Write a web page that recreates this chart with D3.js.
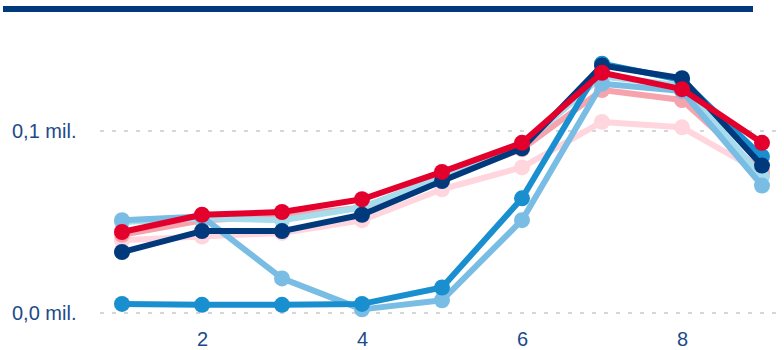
<!DOCTYPE html>
<html><head><meta charset="utf-8">
<script src="https://cdn.jsdelivr.net/npm/d3@7"></script>
<style>body{margin:0;background:#fff;}svg{display:block;font-family:"Liberation Sans",Arial,sans-serif;}</style>
</head><body>
<svg id="c" width="784" height="350"></svg>
<script>
const categories = [1,2,3,4,5,6,7,8,9];
const xTicks = [2,4,6,8];
const yTicks = [0, 0.1];
const yTickLabels = ["0,0 mil.", "0,1 mil."];
const seriesNames = ["lightPink","midPink","lightCyan","lightBlue","midBlue","navy","red"];
const seriesColors = ["#ffd6de","#f5a3ad","#a6dcec","#79bde4","#1a8fd0","#003a7d","#e3002c"];
const lightPink = [0.040,0.042,0.044,0.051,0.068,0.080,0.105,0.102,0.077];
const midPink   = [0.043,0.051,0.053,0.058,0.074,0.090,0.1225,0.117,0.077];
const lightCyan = [0.050,0.052,0.051,0.058,0.075,0.092,0.130,0.125,0.075];
const lightBlue = [0.051,0.053,0.019,0.002,0.007,0.051,0.126,0.122,0.070];
const midBlue   = [0.005,0.0045,0.0045,0.005,0.014,0.063,0.137,0.128,0.086];
const navy      = [0.0335,0.045,0.045,0.054,0.0725,0.0905,0.136,0.129,0.081];
const red       = [0.0445,0.054,0.0555,0.0625,0.0775,0.0935,0.132,0.123,0.0935];
const seriesValues = [lightPink, midPink, lightCyan, lightBlue, midBlue, navy, red];

const svg = d3.select("#c");
const x = d3.scaleLinear().domain([1,9]).range([122,762]);
const y = d3.scaleLinear().domain([0,0.1]).range([313,131]);

// top rule
svg.append("rect").attr("x",3).attr("y",6).attr("width",750).attr("height",6).attr("fill","#003a7d");

// gridlines
svg.append("g").selectAll("line").data(yTicks).join("line")
  .attr("x1",100).attr("x2",778)
  .attr("y1",d=>y(d)).attr("y2",d=>y(d))
  .attr("stroke","#d6d6d6").attr("stroke-width",2).attr("stroke-dasharray","4,8");

// y labels
svg.append("g").selectAll("text").data(yTicks).join("text")
  .attr("x",12).attr("y",d=>y(d)+7)
  .attr("font-size",20).attr("fill","#1b4a8a")
  .text((d,i)=>yTickLabels[i]);

// x axis labels
const xAxis = d3.axisBottom(x).tickValues(xTicks).tickSize(0).tickPadding(0).tickFormat(d3.format("d"));
const gx = svg.append("g").attr("transform","translate(0,332)").call(xAxis);
gx.select(".domain").remove();
gx.selectAll("text").attr("font-size",20).attr("fill","#1b4a8a").attr("font-family","Liberation Sans, Arial, sans-serif");

const line = d3.line().x((d,i)=>x(categories[i])).y(d=>y(d));
seriesValues.forEach((vals,si)=>{
  const g = svg.append("g").attr("class",seriesNames[si]);
  g.append("path").attr("d",line(vals)).attr("fill","none")
    .attr("stroke",seriesColors[si]).attr("stroke-width",6).attr("stroke-linejoin","round");
  g.selectAll("circle").data(vals).join("circle")
    .attr("cx",(d,i)=>x(categories[i])).attr("cy",d=>y(d)).attr("r",8)
    .attr("fill",seriesColors[si]);
});
</script>
</body></html>
